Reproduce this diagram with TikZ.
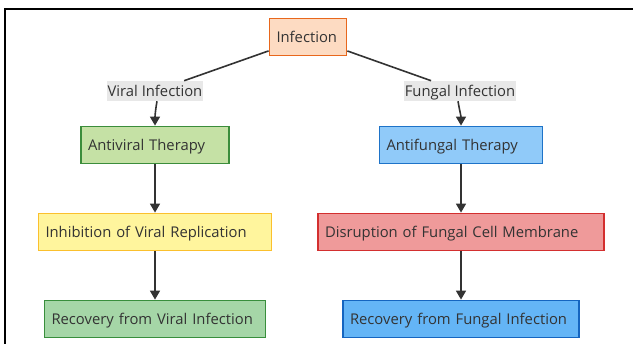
\documentclass[tikz,border=0pt]{standalone}
\usepackage{fontspec}
\setmainfont{Open Sans}
\usepackage{tikz}
\usetikzlibrary{positioning,arrows.meta}
\definecolor{inkgray}{HTML}{333333}
\definecolor{infFill}{HTML}{FDDBC2}
\definecolor{infDraw}{HTML}{E8671C}
\definecolor{avFill}{HTML}{C5E1A5}
\definecolor{avDraw}{HTML}{3B8D3B}
\definecolor{afFill}{HTML}{90CAF9}
\definecolor{afDraw}{HTML}{1E73C8}
\definecolor{inhFill}{HTML}{FFF59D}
\definecolor{inhDraw}{HTML}{FBC02D}
\definecolor{disFill}{HTML}{EF9A9A}
\definecolor{disDraw}{HTML}{D32F2F}
\definecolor{rvFill}{HTML}{A5D6A7}
\definecolor{rvDraw}{HTML}{388E3C}
\definecolor{rfFill}{HTML}{64B5F6}
\definecolor{rfDraw}{HTML}{1565C0}
\definecolor{labFill}{HTML}{E8E8E8}

\begin{document}
\begin{tikzpicture}[
    x=1pt,y=-1pt,
    stage/.style={rectangle,draw,line width=1.8pt,minimum height=37pt,inner xsep=7pt,
                  text height=12pt,text depth=1.5pt,
                  align=left,text=inkgray,font=\fontsize{14.8}{18}\selectfont},
    edgelabel/.style={rectangle,fill=labFill,inner xsep=1pt,minimum height=20pt,
                      text height=12pt,text depth=1.5pt,
                      text=inkgray,font=\fontsize{14.8}{18}\selectfont},
    link/.style={draw=inkgray,line width=1.6pt},
    arrow/.style={link,-{Triangle[length=9pt,width=10pt]}}
]
\useasboundingbox (0,0) rectangle (633,344);
\draw[line width=2pt] (5,344) -- (5,9) -- (633,9);

\node[stage,fill=infFill,draw=infDraw,text width=63pt]  (inf) at (308,37)  {Infection};
\node[edgelabel] (vlab) at (155,91) {Viral Infection};
\node[edgelabel] (flab) at (460,91) {Fungal Infection};

\node[stage,fill=avFill,draw=avDraw,text width=134pt]   (av)  at (155,145) {Antiviral Therapy};
\node[stage,fill=afFill,draw=afDraw,text width=149pt]   (af)  at (461,145) {Antifungal Therapy};
\node[stage,fill=inhFill,draw=inhDraw,text width=219pt] (inh) at (155,232) {Inhibition of Viral Replication};
\node[stage,fill=disFill,draw=disDraw,text width=272pt] (dis) at (461,232) {Disruption of Fungal Cell Membrane};
\node[stage,fill=rvFill,draw=rvDraw,text width=207pt]   (rv)  at (155,319) {Recovery from Viral Infection};
\node[stage,fill=rfFill,draw=rfDraw,text width=222pt]   (rf)  at (461,319) {Recovery from Fungal Infection};

\draw[link] (inf) -- (vlab);
\draw[link] (inf) -- (flab);
\draw[arrow] ([xshift=2pt]vlab.south) to[out=-100,in=90] (av.north);
\draw[arrow] ([xshift=-2pt]flab.south) to[out=-80,in=90] (af.north);
\draw[arrow] (av) -- (inh);
\draw[arrow] (inh) -- (rv);
\draw[arrow] (af) -- (dis);
\draw[arrow] (dis) -- (rf);
\end{tikzpicture}
\end{document}
